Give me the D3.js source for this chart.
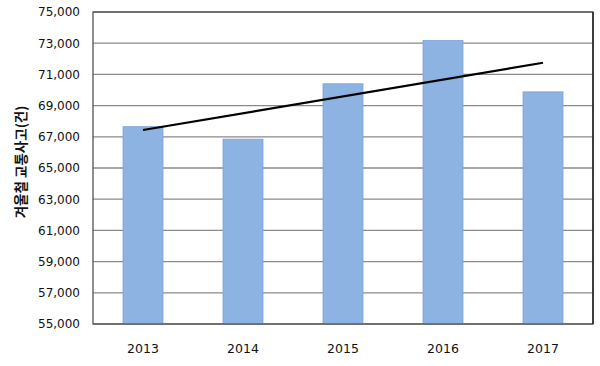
<!DOCTYPE html>
<html><head><meta charset="utf-8">
<script src="https://cdn.jsdelivr.net/npm/d3@7"></script>
<style>html,body{margin:0;padding:0;background:#fff;}</style>
</head><body><svg id="c" width="600" height="366"></svg>
<script>
const years = ["2013","2014","2015","2016","2017"];
const accidents = [67650, 66850, 70400, 73170, 69880];
const yTicks = [55000,57000,59000,61000,63000,65000,67000,69000,71000,73000,75000];
const yTitle = "겨울철 교통사고(건)";

const svg = d3.select("#c");
const m = {l:93, t:12, r:593, b:324};
const x = d3.scaleBand().domain(years).range([m.l, m.r]).paddingInner(0.6).paddingOuter(0.3);
const y = d3.scaleLinear().domain([55000, 75000]).range([m.b, m.t]);

// gridlines
svg.append("g").selectAll("line").data(yTicks).join("line")
  .attr("x1", m.l).attr("x2", m.r)
  .attr("y1", d => y(d)).attr("y2", d => y(d))
  .attr("stroke", "#8a8a8a").attr("stroke-width", 1.3);

// bars
svg.append("g").selectAll("rect").data(years).join("rect")
  .attr("x", d => x(d)).attr("width", x.bandwidth())
  .attr("y", (d,i) => y(accidents[i])).attr("height", (d,i) => y(55000) - y(accidents[i]))
  .attr("fill", "#8db3e2").attr("stroke", "#7ea3d6").attr("stroke-width", 0.8);

// plot border
svg.append("rect").attr("x", m.l).attr("y", m.t).attr("width", m.r - m.l).attr("height", m.b - m.t)
  .attr("fill", "none").attr("stroke", "#555").attr("stroke-width", 1.3);
svg.append("line").attr("x1", m.r).attr("x2", m.r).attr("y1", m.t).attr("y2", m.b)
  .attr("stroke", "#222").attr("stroke-width", 1.5);

// linear trend line (least squares from bar values)
const n = accidents.length;
const xs = d3.range(n);
const mx = d3.mean(xs), my = d3.mean(accidents);
const slope = d3.sum(xs, (v,i) => (v-mx)*(accidents[i]-my)) / d3.sum(xs, v => (v-mx)*(v-mx));
const icpt = my - slope*mx;
const cx = d => x(d) + x.bandwidth()/2;
svg.append("line")
  .attr("x1", cx(years[0])).attr("y1", y(icpt))
  .attr("x2", cx(years[n-1])).attr("y2", y(icpt + slope*(n-1)))
  .attr("stroke", "#000").attr("stroke-width", 2.2);

// y axis labels
const fmt = d3.format(",");
svg.append("g").selectAll("text").data(yTicks).join("text")
  .attr("x", 80).attr("y", d => y(d)).attr("dy", "0.36em")
  .attr("text-anchor", "end").attr("font-family", "DejaVu Sans").attr("font-size", 12).attr("fill", "#111")
  .text(d => fmt(d));

// x axis labels
svg.append("g").selectAll("text").data(years).join("text")
  .attr("x", d => cx(d)).attr("y", 353)
  .attr("text-anchor", "middle").attr("font-family", "DejaVu Sans").attr("font-size", 12.5).attr("fill", "#111")
  .text(d => d);

// y title
svg.append("text")
  .attr("transform", "translate(26,162) rotate(-90)")
  .attr("text-anchor", "middle").attr("font-family", "Noto Sans CJK KR").attr("font-weight", "bold")
  .attr("font-size", 13.5).attr("fill", "#111")
  .text(yTitle);
</script></body></html>
